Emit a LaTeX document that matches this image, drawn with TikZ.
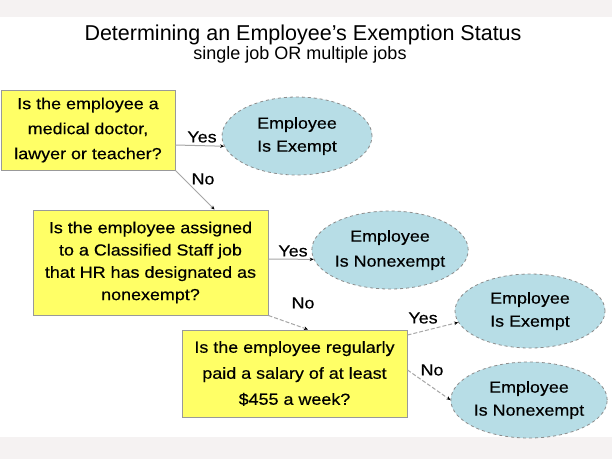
\documentclass[tikz,border=0pt]{standalone}
\usepackage{fontspec}
\setmainfont{Liberation Sans}
\newfontfamily\boxfont[FakeStretch=1.12,FakeBold=0.4]{Liberation Sans}
\usetikzlibrary{shapes.geometric,arrows.meta}
\definecolor{boxyellow}{RGB}{255,255,102}
\definecolor{ellblue}{RGB}{183,221,230}
\definecolor{bandgray}{RGB}{245,242,242}
\tikzset{
  qbox/.style={draw=gray!80, line width=1pt, fill=boxyellow, align=center, inner sep=0pt,
    font=\boxfont\fontsize{16}{25}\selectfont},
  result/.style={ellipse, draw=gray!90, dashed, line width=0.8pt, fill=ellblue, align=center,
    inner sep=0pt, font=\boxfont\fontsize{16}{23}\selectfont},
  conn/.style={draw=gray!70, line width=1pt, -{Stealth[length=4pt,width=3.5pt,black]}},
  conndash/.style={conn, dash pattern=on 4pt off 2pt},
  lab/.style={inner sep=0pt, font=\boxfont\fontsize{16}{18}\selectfont},
}
\begin{document}
\begin{tikzpicture}[x=1pt,y=-1pt]
\useasboundingbox (0,0) rectangle (612,459);
\fill[white] (0,0) rectangle (612,459);
\fill[bandgray] (0,0) rectangle (612,17);
\fill[bandgray] (0,437) rectangle (612,459);

\node[anchor=base, font=\fontsize{21.5}{24}\selectfont] (title) at (303,40) {Determining an Employee's Exemption Status};
\node[anchor=base, font=\fontsize{18}{20}\selectfont] (subtitle) at (300,59) {single job OR multiple jobs};

\node[qbox, minimum width=174pt, minimum height=80pt] (b1) at (88,130)
  {Is the employee a\\medical doctor,\\lawyer or teacher?};
\node[result, minimum width=150pt, minimum height=78pt] (e1) at (297,136)
  {Employee\\Is Exempt};

\node[qbox, minimum width=235pt, minimum height=105pt, font=\boxfont\fontsize{16}{22.3}\selectfont] (b2) at (150.5,262.5)
  {Is the employee assigned\\to a Classified Staff job\\that HR has designated as\\nonexempt?};
\node[result, minimum width=151pt, minimum height=78pt, font=\boxfont\fontsize{16}{25}\selectfont] (e2) at (390,250)
  {Employee\\Is Nonexempt};

\node[qbox, minimum width=225pt, minimum height=87pt, font=\boxfont\fontsize{16}{26}\selectfont] (b3) at (294.5,373.5)
  {Is the employee regularly\\paid a salary of at least\\\$455 a week?};
\node[result, minimum width=150pt, minimum height=74pt] (e3) at (530,311)
  {Employee\\Is Exempt};
\node[result, minimum width=150pt, minimum height=76pt] (e4) at (529,400)
  {Employee\\Is Nonexempt};

\draw[conn] ([yshift=-15pt]b1.east) -- (e1.188);
\node[lab] (y1) at (202,137) {Yes};
\draw[conn] (b1.south east) -- ([xshift=64pt]b2.north);
\node[lab] (n1) at (203,179) {No};

\draw[conn] ([yshift=3.5pt]b2.east) -- (e2.187);
\node[lab] (y2) at (293,251) {Yes};
\draw[conndash] (b2.south east) -- ([xshift=13.5pt]b3.north);
\node[lab] (n2) at (303,303) {No};

\draw[conndash] ([yshift=38.5pt]b3.east) -- (e3.189);
\node[lab] (y3) at (423,318) {Yes};
\draw[conndash] ([yshift=3.5pt]b3.east) -- (e4.west);
\node[lab] (n3) at (432,370) {No};
\end{tikzpicture}
\end{document}
